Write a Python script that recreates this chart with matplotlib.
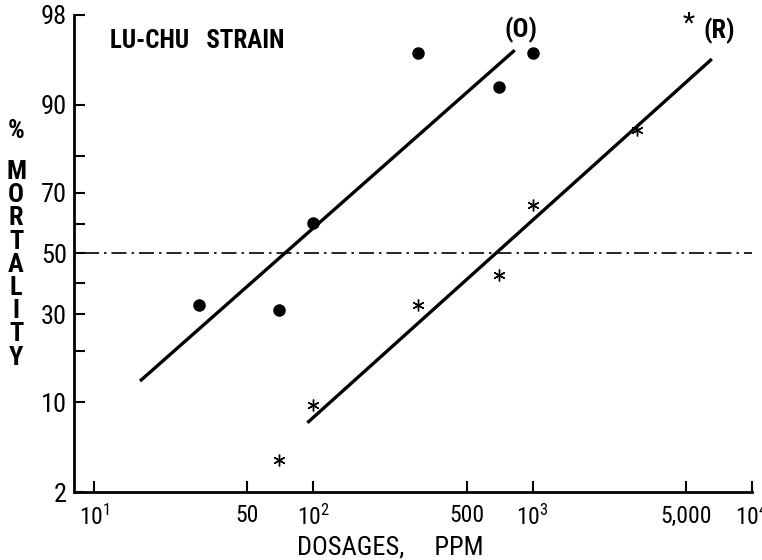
import numpy as np
import matplotlib
matplotlib.use('Agg')
import matplotlib.pyplot as plt
from statistics import NormalDist
from matplotlib.ticker import FixedLocator, FixedFormatter, NullFormatter
from matplotlib import font_manager

# ---- data ----
dose_O = [30, 70, 100, 300, 700, 1000]
mort_O = [33.0, 31.3, 60.3, 95.8, 92.4, 95.8]
dose_R = [70, 100, 300, 700, 1000, 3000]
mort_R = [3.8, 9.6, 33.0, 42.6, 66.3, 85.7]
line_O_dose = [16.2, 828]
line_O_mort = [13.6, 96.0]
line_R_dose = [93.9, 6560]
line_R_mort = [7.25, 95.3]
y_major = [2, 10, 30, 50, 70, 90, 98]
y_minor = [20, 40, 60, 80]
x_ticks = [10, 50, 100, 500, 1000, 5000, 10000]
x_labels = [r'$\mathregular{10^{1}}$', '50', r'$\mathregular{10^{2}}$', '500',
            r'$\mathregular{10^{3}}$', '5,000', r'$\mathregular{10^{4}}$']

_nd = NormalDist()
def probit(p):
    p = np.clip(np.asarray(p, float), 1e-4, 100 - 1e-4)
    return np.vectorize(lambda v: _nd.inv_cdf(v / 100.0), otypes=[float])(p)
def inv_probit(z):
    z = np.asarray(z, float)
    return np.vectorize(lambda v: _nd.cdf(v) * 100.0, otypes=[float])(z)

installed = {f.name for f in font_manager.fontManager.ttflist}
fam = None
for cand in ['Liberation Sans Narrow', 'DejaVu Sans Condensed', 'Roboto Condensed',
             'Open Sans Condensed', 'Liberation Sans']:
    if cand in installed:
        fam = cand
        break
if fam is None:
    fam = 'DejaVu Sans'
plt.rcParams['font.family'] = [fam, 'DejaVu Sans']
plt.rcParams['font.stretch'] = 'condensed'
plt.rcParams['mathtext.fontset'] = 'custom'
plt.rcParams['mathtext.rm'] = fam

fig = plt.figure(figsize=(7.62, 5.6), dpi=100)
ax = fig.add_axes([74/762, 1 - 492/560, (752-74)/762, (492-15)/560])
ax.set_xscale('log')
ax.set_yscale('function', functions=(probit, inv_probit))
ax.set_xlim(8.1, 10000)
ax.set_ylim(2, 98)

ax.axhline(50, color='black', lw=1.2, ls=(0, (9, 3, 1.5, 3)), xmin=0.015, xmax=1.0)
ax.plot(line_O_dose, line_O_mort, color='black', lw=2.4, solid_capstyle='butt')
ax.plot(line_R_dose, line_R_mort, color='black', lw=2.4, solid_capstyle='butt')
ax.plot(dose_O, mort_O, 'o', color='black', ms=8, ls='none')
ax.plot(dose_R, mort_R, ls='none', marker=(6, 2, 0), color='black', ms=8.5, mew=1.0)

for s in ['top', 'right']:
    ax.spines[s].set_visible(False)
for s in ['left', 'bottom']:
    ax.spines[s].set_linewidth(2.0)

ax.yaxis.set_major_locator(FixedLocator(y_major))
ax.yaxis.set_major_formatter(FixedFormatter([str(v) for v in y_major]))
ax.yaxis.set_minor_locator(FixedLocator(y_minor))
ax.yaxis.set_minor_formatter(NullFormatter())
ax.xaxis.set_major_locator(FixedLocator(x_ticks))
ax.xaxis.set_major_formatter(FixedFormatter(x_labels))
ax.xaxis.set_minor_locator(FixedLocator([]))

ax.tick_params(axis='y', which='both', direction='in', length=8, width=1.5, labelsize=19, pad=5)
ax.tick_params(axis='x', which='both', direction='in', length=8, width=1.5, labelsize=17, pad=9)

ax.text(110/762, 1 - 41/560, 'LU-CHU   STRAIN', transform=fig.transFigure, fontsize=18,
        fontweight='bold', ha='left', va='center')
fig.text(521/762, 1 - 30/560, '(O)', fontsize=19, fontweight='bold', ha='center', va='center')
fig.text(719/762, 1 - 31/560, '(R)', fontsize=19, fontweight='bold', ha='center', va='center')
fig.text(689/762, 1 - 24/560, '*', fontsize=20, ha='center', va='center')

fig.text(16/762, 1 - 131/560, '%', fontsize=19, fontweight='bold', ha='center', va='center')
for i, ch in enumerate('MORTALITY'):
    fig.text(16/762, 1 - (172 + i * 23.2)/560, ch, fontsize=19, fontweight='bold',
             ha='center', va='center')

fig.text(390/762, 1 - 547/560, 'DOSAGES,     PPM', fontsize=19, ha='center', va='center')

fig.savefig('out.png', dpi=100)
